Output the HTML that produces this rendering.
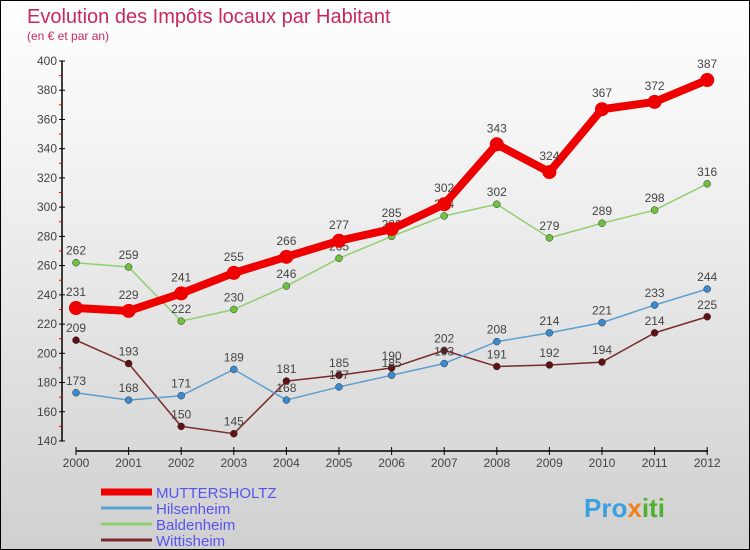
<!DOCTYPE html>
<html><head><meta charset="utf-8">
<style>
body{margin:0;}
#wrap{position:relative;width:748px;height:548px;border:1px solid #000;background:linear-gradient(#ffffff,#f2f2f2 30%,#d0d0d0);font-family:"Liberation Sans",sans-serif;overflow:hidden}
</style></head>
<body>
<div id="wrap">
<svg width="748" height="548" style="position:absolute;left:0;top:0;font-family:'Liberation Sans',sans-serif">
<text x="26" y="22" font-size="20" fill="#c8285a">Evolution des Impôts locaux par Habitant</text>
<text x="26" y="39" font-size="12" fill="#c8285a">(en € et par an)</text>
<g id="axes"></g>
<g id="series"></g>
<g id="legend"></g>
<text x="583" y="516" font-size="26" font-weight="bold" fill="#3aa0e0">Pro<tspan fill="#f08020">x</tspan><tspan fill="#50b030">iti</tspan></text>
</svg>
</div>
<script>
const years=[2000,2001,2002,2003,2004,2005,2006,2007,2008,2009,2010,2011,2012];
const yTicks=[140,160,180,200,220,240,260,280,300,320,340,360,380,400];
const mutt=[231,229,241,255,266,277,285,302,343,324,367,372,387];
const hils=[173,168,171,189,168,177,185,193,208,214,221,233,244];
const bald=[262,259,222,230,246,265,280,294,302,279,289,298,316];
const witt=[209,193,150,145,181,185,190,202,191,192,194,214,225];
const names=["MUTTERSHOLTZ","Hilsenheim","Baldenheim","Wittisheim"];
const NS="http://www.w3.org/2000/svg";
const xs=i=>75+i*52.6;
const ys=v=>60+(400-v)*380/260;
function mk(t,a,p){const e=document.createElementNS(NS,t);for(const k in a)e.setAttribute(k,a[k]);p.appendChild(e);return e;}
const ax=document.getElementById('axes');
let yl=mk('line',{x1:61,y1:60,x2:61,y2:440,stroke:'#000','stroke-width':1.5},ax);


yTicks.forEach(v=>{
 mk('line',{x1:58,x2:64,y1:ys(v),y2:ys(v),stroke:'#000'},ax);
 if(v<400)mk('line',{x1:58,x2:61,y1:ys(v+10),y2:ys(v+10),stroke:'#e00'},ax);
 const t=mk('text',{x:56,y:ys(v)+4,'font-size':12,fill:'#444','text-anchor':'end'},ax);t.textContent=v;
 
 
});
let xl=mk('line',{x1:75,y1:450,x2:707,y2:450,stroke:'#000','stroke-width':1.5},ax);


years.forEach((y,i)=>{
 mk('line',{x1:xs(i),x2:xs(i),y1:446,y2:454,stroke:'#000'},ax);
 const t=mk('text',{x:xs(i),y:466,'font-size':12,fill:'#444','text-anchor':'middle'},ax);t.textContent=y;
 
 
});
const sg=document.getElementById('series');
const cfg=[[mutt,'#ee0000',8,7],[hils,'#5a9fd0',1.5,3.5],[bald,'#90d070',1.5,3.5],[witt,'#7a2a2a',1.5,3.5]];
[3,2,1,0].forEach(k=>{
 const [d,c,w,r]=cfg[k];
 const pl=mk('polyline',{points:d.map((v,i)=>xs(i)+','+ys(v)).join(' '),fill:'none',stroke:c,'stroke-width':w,'stroke-linejoin':'round'},sg);
 
 
 const fc=k==0?'#ee0000':k==1?'#3a8ad0':k==2?'#70c040':'#601010';
 d.forEach((v,i)=>{
  const p=mk('circle',{cx:xs(i),cy:ys(v),r:r,fill:fc,stroke:k==0?'none':'#333','stroke-width':0.5},sg);
  
  
  const t=mk('text',{x:xs(i),y:ys(v)-(k==0?12:8),'font-size':12,fill:'#444','text-anchor':'middle'},sg);t.textContent=v;
  
  
 });
});
const lg=document.getElementById('legend');
const ly=[491,507,523,539];
names.forEach((n,k)=>{
 const l=mk('line',{x1:100,x2:151,y1:ly[k],y2:ly[k],stroke:cfg[k][1],'stroke-width':k==0?7:3},lg);
 
 
 const t=mk('text',{x:155,y:ly[k]+6,'font-size':15,fill:'#5555ee'},lg);t.textContent=n;
 
 
});
</script>
</body></html>
